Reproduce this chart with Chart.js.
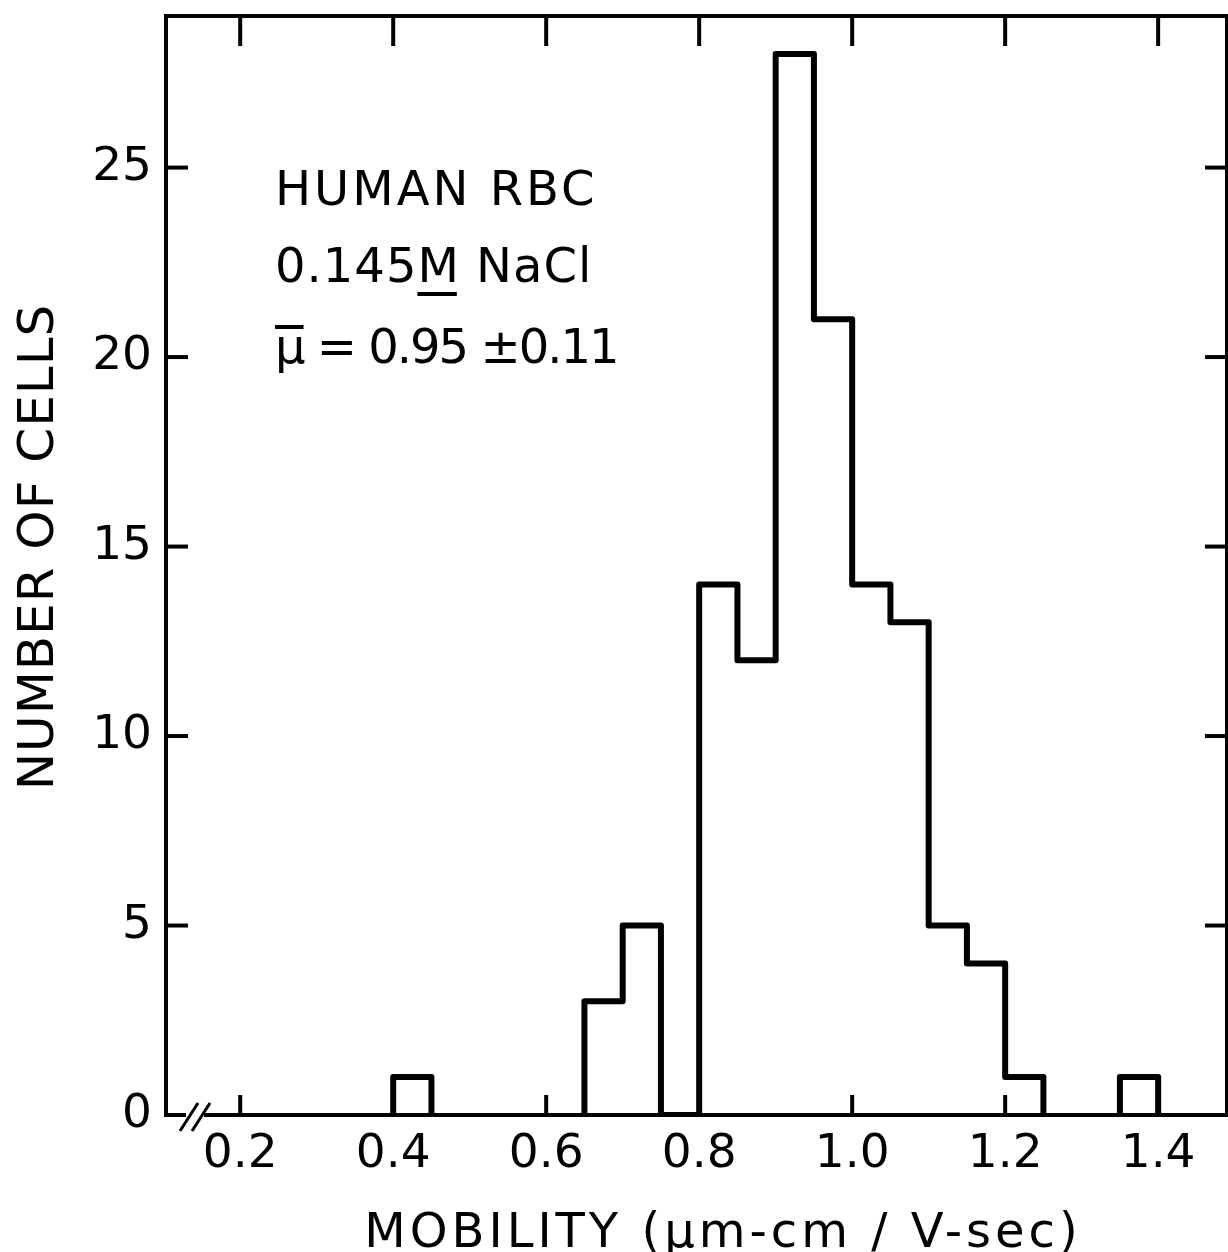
<!DOCTYPE html>
<html>
<head>
<meta charset="utf-8">
<script src="https://cdn.jsdelivr.net/npm/chart.js@4.4.1/dist/chart.umd.min.js"></script>
<style>
  html, body { margin: 0; padding: 0; background: #fff; overflow: hidden; }
  #wrap { width: 1228px; height: 1252px; }
</style>
</head>
<body>
<div id="wrap"><canvas id="c" width="1228" height="1252"></canvas></div>
<script>
// ---- data ----
const binWidth = 0.05;
const binLefts = [0.40, 0.65, 0.70, 0.75, 0.80, 0.85, 0.90, 0.95, 1.00, 1.05, 1.10, 1.15, 1.20, 1.35];
const counts   = [1,    3,    5,    0,    14,   12,   28,   21,   14,   13,   5,    4,    1,    1];
const xTickValues = [0.2, 0.4, 0.6, 0.8, 1.0, 1.2, 1.4];
const yTickValues = [0, 5, 10, 15, 20, 25];
const xRange = [0.103, 1.49];
const yRange = [0, 29];
const xTitle = 'MOBILITY (\u03bcm-cm / V-sec)';
const yTitle = 'NUMBER OF CELLS';
const noteLines = ['HUMAN RBC', '0.145M NaCl', '\u03bc = 0.95 \u00b10.11'];

// build the histogram outline from the bins
const outline = [];
let prevRight = null;
for (let i = 0; i < binLefts.length; i++) {
  const left = binLefts[i], right = +(left + binWidth).toFixed(4), c = counts[i];
  if (prevRight === null || Math.abs(left - prevRight) > 1e-6) {
    if (prevRight !== null) { outline.push({x: prevRight, y: 0}); outline.push({x: prevRight, y: null}); }
    outline.push({x: left, y: 0});
  }
  outline.push({x: left, y: c});
  outline.push({x: right, y: c});
  prevRight = right;
}
outline.push({x: prevRight, y: 0});

const FONT = '"DejaVu Sans", sans-serif';
const INK = '#000';

const decor = {
  id: 'decor',
  beforeDraw(chart) {
    const ctx = chart.ctx;
    ctx.save();
    ctx.fillStyle = '#fff';
    ctx.fillRect(0, 0, chart.width, chart.height);
    ctx.restore();
  },
  afterDraw(chart) {
    const ctx = chart.ctx;
    const a = chart.chartArea;
    const xs = chart.scales.x, ys = chart.scales.y;
    const setLS = v => { if ('letterSpacing' in ctx) ctx.letterSpacing = v; };
    ctx.save();
    ctx.strokeStyle = INK;
    ctx.lineWidth = 4;
    ctx.lineCap = 'butt';
    // inward tick marks
    xTickValues.forEach(v => {
      const px = xs.getPixelForValue(v);
      ctx.beginPath(); ctx.moveTo(px, a.top); ctx.lineTo(px, a.top + 30); ctx.stroke();
      ctx.beginPath(); ctx.moveTo(px, a.bottom); ctx.lineTo(px, a.bottom - 20); ctx.stroke();
    });
    yTickValues.filter(v => v > 0).forEach(v => {
      const py = ys.getPixelForValue(v);
      ctx.beginPath(); ctx.moveTo(a.left, py); ctx.lineTo(a.left + 22, py); ctx.stroke();
      ctx.beginPath(); ctx.moveTo(a.right, py); ctx.lineTo(a.right - 22, py); ctx.stroke();
    });
    // axis break marks
    const by = a.bottom;
    ctx.fillStyle = '#fff';
    ctx.fillRect(a.left + 20, by - 3, 18, 6);
    ctx.lineWidth = 3;
    ctx.beginPath(); ctx.moveTo(a.left + 14, by + 16); ctx.lineTo(a.left + 32, by - 12); ctx.stroke();
    ctx.beginPath(); ctx.moveTo(a.left + 26, by + 16); ctx.lineTo(a.left + 44, by - 12); ctx.stroke();

    // annotation text
    ctx.fillStyle = INK;
    ctx.textAlign = 'left';
    ctx.textBaseline = 'alphabetic';
    ctx.font = '48px ' + FONT;
    const tx = 275;
    setLS('3px');
    ctx.fillText(noteLines[0], tx, 205);
    setLS('1px');
    ctx.fillText(noteLines[1], tx, 282);
    // underline M
    const preM = ctx.measureText('0.145').width;
    const mW = ctx.measureText('M').width;
    ctx.lineWidth = 4;
    ctx.beginPath(); ctx.moveTo(tx + preM, 294); ctx.lineTo(tx + preM + mW - 3, 294); ctx.stroke();
    setLS('-2px');
    ctx.fillText(noteLines[2], tx, 363);
    // overline on mu
    const muW = ctx.measureText('\u03bc').width;
    ctx.beginPath(); ctx.moveTo(tx, 327); ctx.lineTo(tx + muW, 327); ctx.stroke();

    // axis titles
    ctx.font = '48px ' + FONT;
    setLS('4px');
    ctx.textAlign = 'center';
    ctx.fillText(xTitle, 723, 1247);

    ctx.save();
    ctx.translate(53, 547);
    ctx.rotate(-Math.PI / 2);
    ctx.font = '50px ' + FONT;
    setLS('1px');
    ctx.textAlign = 'center';
    ctx.fillText(yTitle, 0, 0);
    ctx.restore();
    ctx.restore();
  }
};

const fixSize = (w, h) => (scale) => {
  if (w !== null) scale.width = w;
  if (h !== null) scale.height = h;
  scale.paddingTop = 0; scale.paddingBottom = 0;
  scale.paddingLeft = 0; scale.paddingRight = 0;
};

new Chart(document.getElementById('c'), {
  type: 'line',
  data: {
    datasets: [{
      data: outline,
      borderColor: INK,
      borderWidth: 6,
      borderJoinStyle: 'round',
      borderCapStyle: 'round',
      pointRadius: 0,
      fill: false,
      spanGaps: false,
      tension: 0
    }]
  },
  options: {
    responsive: false,
    animation: false,
    devicePixelRatio: 1,
    layout: { padding: 0 },
    plugins: { legend: { display: false }, tooltip: { enabled: false } },
    scales: {
      x: {
        type: 'linear', position: 'bottom',
        min: xRange[0], max: xRange[1],
        afterBuildTicks: s => { s.ticks = xTickValues.map(v => ({value: v})); },
        afterFit: fixSize(null, 137),
        grid: { display: false, drawTicks: false },
        border: { display: true, color: INK, width: 4 },
        ticks: {
          color: INK, padding: 12, maxRotation: 0, autoSkip: false,
          font: { family: FONT, size: 47 },
          callback: v => Number(v).toFixed(1)
        }
      },
      x2: {
        type: 'linear', position: 'top',
        min: xRange[0], max: xRange[1],
        afterFit: fixSize(null, 16),
        grid: { display: false, drawTicks: false },
        border: { display: true, color: INK, width: 4 },
        ticks: { display: false }
      },
      y: {
        type: 'linear', position: 'left',
        min: yRange[0], max: yRange[1],
        afterBuildTicks: s => { s.ticks = yTickValues.map(v => ({value: v})); },
        afterFit: fixSize(166, null),
        grid: { display: false, drawTicks: false },
        border: { display: true, color: INK, width: 4 },
        ticks: {
          color: INK, padding: 14, autoSkip: false,
          font: { family: FONT, size: 47 },
          callback: v => String(v)
        }
      },
      y2: {
        type: 'linear', position: 'right',
        min: yRange[0], max: yRange[1],
        afterFit: fixSize(1, null),
        grid: { display: false, drawTicks: false },
        border: { display: true, color: INK, width: 4 },
        ticks: { display: false }
      }
    }
  },
  plugins: [decor]
});
</script>
</body>
</html>
